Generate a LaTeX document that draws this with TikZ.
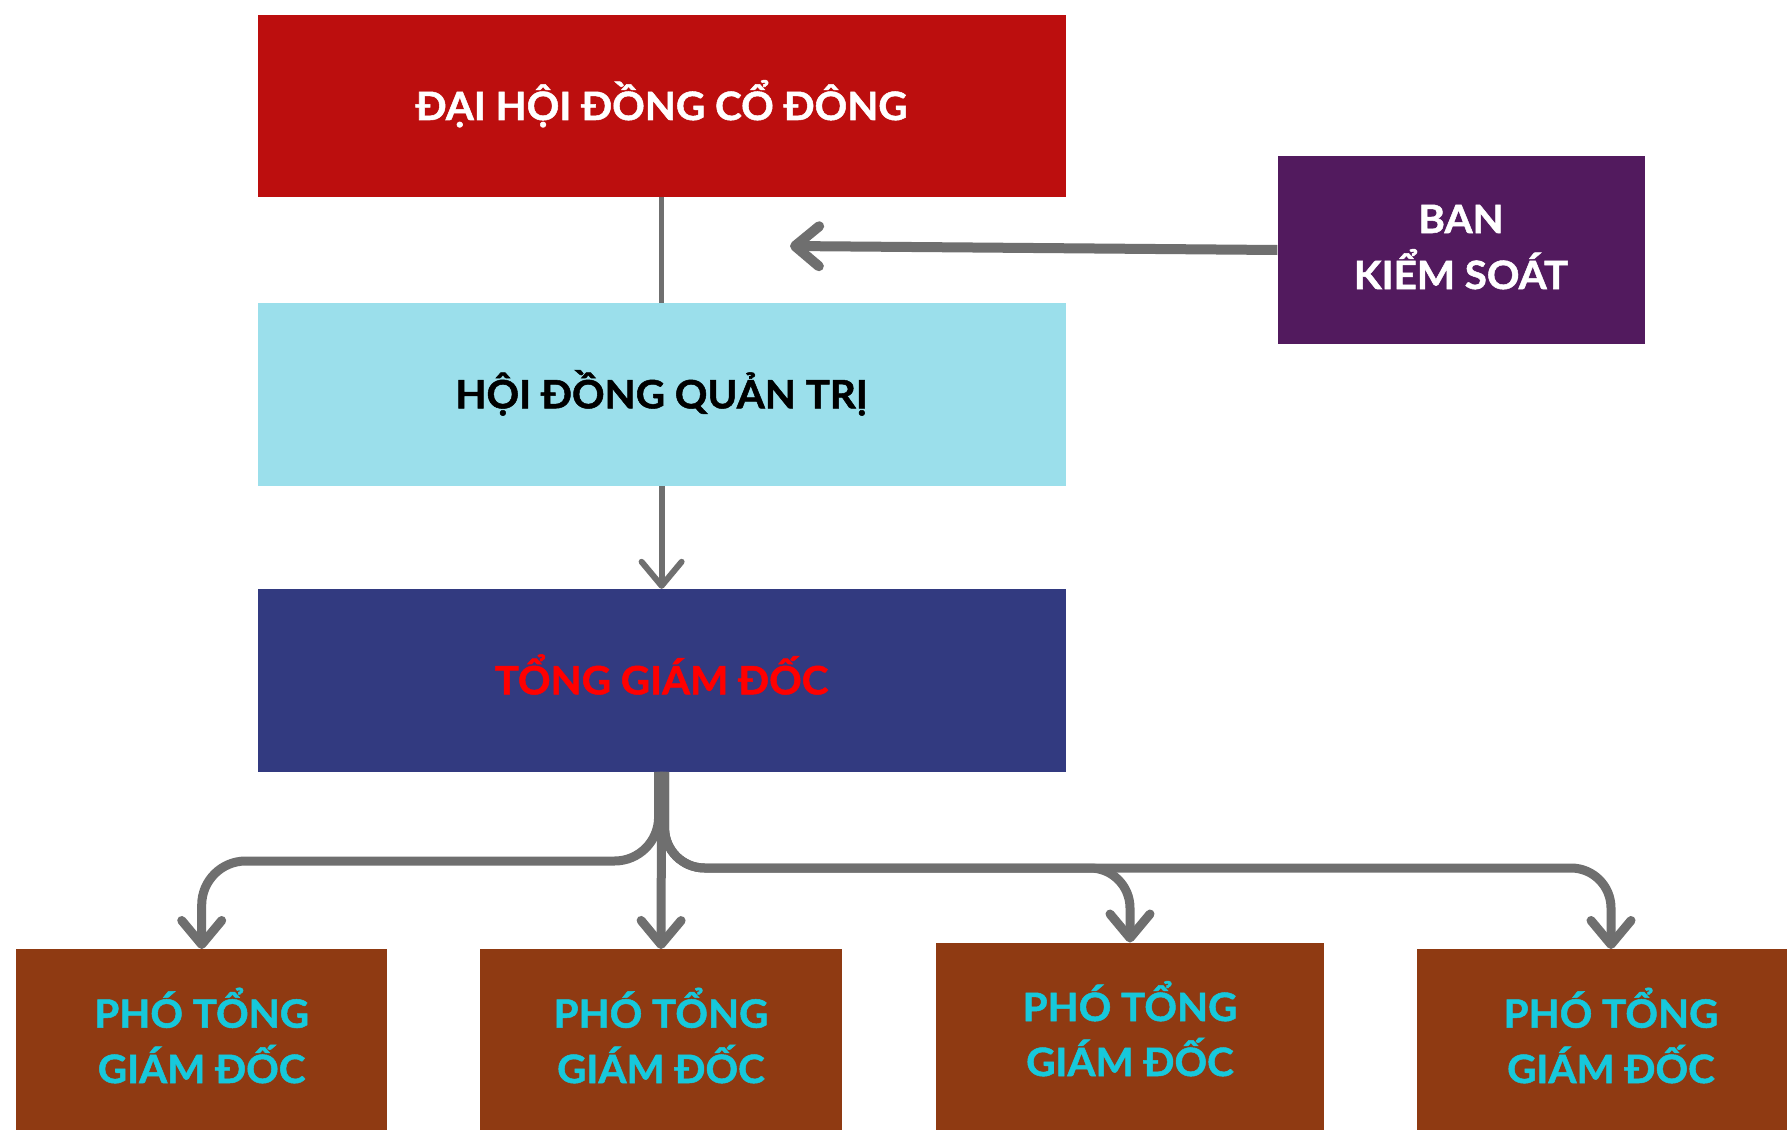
\documentclass[tikz,border=0pt]{standalone}
\usepackage{fontspec}
\setmainfont{Lato}[BoldFeatures={FakeBold=1.3, FakeStretch=1.035}]
\usetikzlibrary{arrows.meta}
\definecolor{cRed}{HTML}{BC0E0E}
\definecolor{cLight}{HTML}{9BDFEB}
\definecolor{cNavy}{HTML}{323A80}
\definecolor{cPurple}{HTML}{521A5E}
\definecolor{cBrown}{HTML}{8F3A12}
\definecolor{cCyan}{HTML}{17C8DB}
\definecolor{cGray}{HTML}{6F6F6F}
\definecolor{cTxtRed}{HTML}{FF0000}
\tikzset{
  box/.style={rectangle, inner sep=0pt, draw=none},
  boxtext/.style={font=\fontsize{39}{47}\selectfont\bfseries, text height=28pt, text depth=0pt},
  linetext/.style={font=\fontsize{39}{47}\selectfont\bfseries, anchor=base, inner sep=0pt},
  conn/.style={draw=cGray, line width=9pt, line cap=round, line join=round},
  tip/.style={-{Straight Barb[length=24pt,width=40pt,round]}},
}
\begin{document}
\begin{tikzpicture}[x=1pt,y=-1pt]
\useasboundingbox (0,0) rectangle (1787,1129);
\clip (0,0) rectangle (1787,1129);
\fill[white] (0,0) rectangle (1787,1129);
% boxes
\node[box, boxtext, fill=cRed, text=white, minimum width=808pt, minimum height=182.4pt] (dhdcd) at (661.6,106) {ĐẠI HỘI ĐỒNG CỔ ĐÔNG};
\node[box, boxtext, fill=cLight, text=black, minimum width=808pt, minimum height=182.5pt] (hdqt) at (661.6,394.3) {HỘI ĐỒNG QUẢN TRỊ};
\node[box, boxtext, fill=cNavy, text=cTxtRed, minimum width=808pt, minimum height=182.6pt] (tgd) at (661.6,680.3) {TỔNG GIÁM ĐỐC};
\node[box, fill=cPurple, minimum width=367pt, minimum height=188pt] (bks) at (1461,250) {};
\node[linetext, text=white] (bks1) at (1461,233) {BAN};
\node[linetext, text=white] (bks2) at (1461,289) {KIỂM SOÁT};
% bottom boxes
\node[box, fill=cBrown, minimum width=371.5pt, minimum height=190pt, anchor=north] (pho1) at (201.7,949) {};
\node[box, fill=cBrown, minimum width=362pt, minimum height=190pt, anchor=north] (pho2) at (661,949) {};
\node[box, fill=cBrown, minimum width=388.7pt, minimum height=200pt, anchor=north] (pho3) at (1130,942.5) {};
\node[box, fill=cBrown, minimum width=388pt, minimum height=190pt, anchor=north] (pho4) at (1611,949) {};
\node[linetext, text=cCyan] (pho1a) at (201.7,1027.7) {PHÓ TỔNG};
\node[linetext, text=cCyan] (pho1b) at (201.7,1083) {GIÁM ĐỐC};
\node[linetext, text=cCyan] (pho2a) at (661,1027.7) {PHÓ TỔNG};
\node[linetext, text=cCyan] (pho2b) at (661,1083) {GIÁM ĐỐC};
\node[linetext, text=cCyan] (pho3a) at (1130,1021) {PHÓ TỔNG};
\node[linetext, text=cCyan] (pho3b) at (1130,1076) {GIÁM ĐỐC};
\node[linetext, text=cCyan] (pho4a) at (1611,1027.7) {PHÓ TỔNG};
\node[linetext, text=cCyan] (pho4b) at (1611,1083) {GIÁM ĐỐC};
% connectors
\draw[conn, line width=5pt, line cap=butt] (dhdcd.south) -- (hdqt.north);
\draw[conn, tip, line width=6pt, line cap=butt] (hdqt.south) -- (tgd.north);
\coordinate (bkstip) at (790,246);
\draw[conn, tip, line width=10pt, line cap=butt] (bks.west |- 0,250) -- (bkstip);
\draw[conn, tip, line cap=butt, rounded corners=44pt] ([xshift=-3pt]tgd.south) |- (201.7,861) -- (pho1.north);
\draw[conn, tip, line cap=butt] (tgd.south) -- (pho2.north);
\draw[conn, tip, line cap=butt, rounded corners=40pt] ([xshift=3pt]tgd.south) |- (1130,868) -- (pho3.north);
\draw[conn, tip, line cap=butt, rounded corners=40pt] ([xshift=3pt]tgd.south) |- (1611,868) -- (pho4.north);
\end{tikzpicture}
\end{document}
